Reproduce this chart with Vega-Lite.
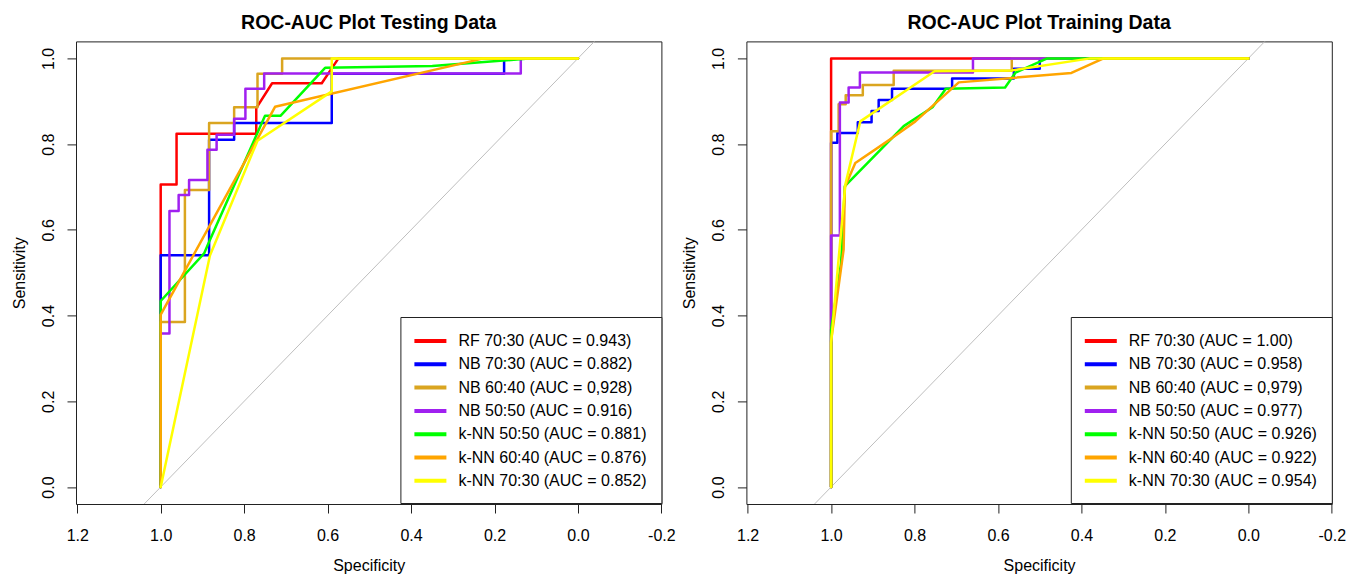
{
  "$schema": "https://vega.github.io/schema/vega-lite/v6.json",
  "padding": {"left": 10, "top": 11.4, "right": 5, "bottom": 5},
  "bounds": "flush",
  "spacing": 84.4,
  "config": {
    "font": "Liberation Sans",
    "background": "white",
    "view": {"stroke": "#222222", "strokeWidth": 1},
    "axis": {"domain": false, "grid": false, "tickColor": "#222222", "tickSize": 9, "tickWidth": 1, "labelFont": "Liberation Sans", "labelFontSize": 16, "labelColor": "#000000", "titleFont": "Liberation Sans", "titleFontSize": 16, "titleFontWeight": "normal", "titleColor": "#000000", "labelOverlap": false, "labelFlush": false, "labelBound": false},
    "title": {"font": "Liberation Sans", "fontSize": 19.5, "fontWeight": "bold", "color": "#000000", "anchor": "middle", "frame": "group", "baseline": "alphabetic", "offset": 8.1}
  },
  "datasets": {
    "diag": [{"spec": 1.3, "sens": -0.3}, {"spec": -0.3, "sens": 1.3}],
    "test": [
      {"model": "RF 70:30 (AUC = 0.943)", "i": 0, "spec": 1, "sens": 0},
      {"model": "RF 70:30 (AUC = 0.943)", "i": 1, "spec": 1, "sens": 0.706},
      {"model": "RF 70:30 (AUC = 0.943)", "i": 2, "spec": 0.962, "sens": 0.706},
      {"model": "RF 70:30 (AUC = 0.943)", "i": 3, "spec": 0.962, "sens": 0.824},
      {"model": "RF 70:30 (AUC = 0.943)", "i": 4, "spec": 0.771, "sens": 0.824},
      {"model": "RF 70:30 (AUC = 0.943)", "i": 5, "spec": 0.771, "sens": 0.884},
      {"model": "RF 70:30 (AUC = 0.943)", "i": 6, "spec": 0.733, "sens": 0.942},
      {"model": "RF 70:30 (AUC = 0.943)", "i": 7, "spec": 0.614, "sens": 0.942},
      {"model": "RF 70:30 (AUC = 0.943)", "i": 8, "spec": 0.574, "sens": 1},
      {"model": "RF 70:30 (AUC = 0.943)", "i": 9, "spec": 0, "sens": 1},

      {"model": "NB 70:30 (AUC = 0.882)", "i": 0, "spec": 1, "sens": 0},
      {"model": "NB 70:30 (AUC = 0.882)", "i": 1, "spec": 1, "sens": 0.541},
      {"model": "NB 70:30 (AUC = 0.882)", "i": 2, "spec": 0.884, "sens": 0.541},
      {"model": "NB 70:30 (AUC = 0.882)", "i": 3, "spec": 0.884, "sens": 0.81},
      {"model": "NB 70:30 (AUC = 0.882)", "i": 4, "spec": 0.824, "sens": 0.81},
      {"model": "NB 70:30 (AUC = 0.882)", "i": 5, "spec": 0.824, "sens": 0.849},
      {"model": "NB 70:30 (AUC = 0.882)", "i": 6, "spec": 0.59, "sens": 0.849},
      {"model": "NB 70:30 (AUC = 0.882)", "i": 7, "spec": 0.59, "sens": 0.964},
      {"model": "NB 70:30 (AUC = 0.882)", "i": 8, "spec": 0.177, "sens": 0.964},
      {"model": "NB 70:30 (AUC = 0.882)", "i": 9, "spec": 0.177, "sens": 1},
      {"model": "NB 70:30 (AUC = 0.882)", "i": 10, "spec": 0, "sens": 1},

      {"model": "NB 60:40 (AUC = 0,928)", "i": 0, "spec": 1, "sens": 0},
      {"model": "NB 60:40 (AUC = 0,928)", "i": 1, "spec": 1, "sens": 0.385},
      {"model": "NB 60:40 (AUC = 0,928)", "i": 2, "spec": 0.942, "sens": 0.385},
      {"model": "NB 60:40 (AUC = 0,928)", "i": 3, "spec": 0.942, "sens": 0.693},
      {"model": "NB 60:40 (AUC = 0,928)", "i": 4, "spec": 0.884, "sens": 0.693},
      {"model": "NB 60:40 (AUC = 0,928)", "i": 5, "spec": 0.884, "sens": 0.849},
      {"model": "NB 60:40 (AUC = 0,928)", "i": 6, "spec": 0.824, "sens": 0.849},
      {"model": "NB 60:40 (AUC = 0,928)", "i": 7, "spec": 0.824, "sens": 0.886},
      {"model": "NB 60:40 (AUC = 0,928)", "i": 8, "spec": 0.768, "sens": 0.886},
      {"model": "NB 60:40 (AUC = 0,928)", "i": 9, "spec": 0.768, "sens": 0.964},
      {"model": "NB 60:40 (AUC = 0,928)", "i": 10, "spec": 0.709, "sens": 0.964},
      {"model": "NB 60:40 (AUC = 0,928)", "i": 11, "spec": 0.709, "sens": 1},
      {"model": "NB 60:40 (AUC = 0,928)", "i": 12, "spec": 0, "sens": 1},

      {"model": "NB 50:50 (AUC = 0.916)", "i": 0, "spec": 1, "sens": 0},
      {"model": "NB 50:50 (AUC = 0.916)", "i": 1, "spec": 1, "sens": 0.358},
      {"model": "NB 50:50 (AUC = 0.916)", "i": 2, "spec": 0.979, "sens": 0.358},
      {"model": "NB 50:50 (AUC = 0.916)", "i": 3, "spec": 0.979, "sens": 0.644},
      {"model": "NB 50:50 (AUC = 0.916)", "i": 4, "spec": 0.957, "sens": 0.644},
      {"model": "NB 50:50 (AUC = 0.916)", "i": 5, "spec": 0.957, "sens": 0.681},
      {"model": "NB 50:50 (AUC = 0.916)", "i": 6, "spec": 0.932, "sens": 0.681},
      {"model": "NB 50:50 (AUC = 0.916)", "i": 7, "spec": 0.932, "sens": 0.716},
      {"model": "NB 50:50 (AUC = 0.916)", "i": 8, "spec": 0.888, "sens": 0.716},
      {"model": "NB 50:50 (AUC = 0.916)", "i": 9, "spec": 0.888, "sens": 0.787},
      {"model": "NB 50:50 (AUC = 0.916)", "i": 10, "spec": 0.866, "sens": 0.787},
      {"model": "NB 50:50 (AUC = 0.916)", "i": 11, "spec": 0.866, "sens": 0.822},
      {"model": "NB 50:50 (AUC = 0.916)", "i": 12, "spec": 0.824, "sens": 0.822},
      {"model": "NB 50:50 (AUC = 0.916)", "i": 13, "spec": 0.824, "sens": 0.859},
      {"model": "NB 50:50 (AUC = 0.916)", "i": 14, "spec": 0.797, "sens": 0.859},
      {"model": "NB 50:50 (AUC = 0.916)", "i": 15, "spec": 0.797, "sens": 0.929},
      {"model": "NB 50:50 (AUC = 0.916)", "i": 16, "spec": 0.752, "sens": 0.929},
      {"model": "NB 50:50 (AUC = 0.916)", "i": 17, "spec": 0.752, "sens": 0.965},
      {"model": "NB 50:50 (AUC = 0.916)", "i": 18, "spec": 0.137, "sens": 0.965},
      {"model": "NB 50:50 (AUC = 0.916)", "i": 19, "spec": 0.137, "sens": 1},
      {"model": "NB 50:50 (AUC = 0.916)", "i": 20, "spec": 0, "sens": 1},

      {"model": "k-NN 50:50 (AUC = 0.881)", "i": 0, "spec": 1, "sens": 0},
      {"model": "k-NN 50:50 (AUC = 0.881)", "i": 1, "spec": 1, "sens": 0.434},
      {"model": "k-NN 50:50 (AUC = 0.881)", "i": 2, "spec": 0.896, "sens": 0.545},
      {"model": "k-NN 50:50 (AUC = 0.881)", "i": 3, "spec": 0.885, "sens": 0.57},
      {"model": "k-NN 50:50 (AUC = 0.881)", "i": 4, "spec": 0.75, "sens": 0.866},
      {"model": "k-NN 50:50 (AUC = 0.881)", "i": 5, "spec": 0.713, "sens": 0.866},
      {"model": "k-NN 50:50 (AUC = 0.881)", "i": 6, "spec": 0.606, "sens": 0.978},
      {"model": "k-NN 50:50 (AUC = 0.881)", "i": 7, "spec": 0.349, "sens": 0.982},
      {"model": "k-NN 50:50 (AUC = 0.881)", "i": 8, "spec": 0.111, "sens": 1},
      {"model": "k-NN 50:50 (AUC = 0.881)", "i": 9, "spec": 0, "sens": 1},

      {"model": "k-NN 60:40 (AUC = 0.876)", "i": 0, "spec": 1, "sens": 0},
      {"model": "k-NN 60:40 (AUC = 0.876)", "i": 1, "spec": 1, "sens": 0.402},
      {"model": "k-NN 60:40 (AUC = 0.876)", "i": 2, "spec": 0.726, "sens": 0.887},
      {"model": "k-NN 60:40 (AUC = 0.876)", "i": 3, "spec": 0.226, "sens": 1},
      {"model": "k-NN 60:40 (AUC = 0.876)", "i": 4, "spec": 0, "sens": 1},

      {"model": "k-NN 70:30 (AUC = 0.852)", "i": 0, "spec": 1, "sens": 0},
      {"model": "k-NN 70:30 (AUC = 0.852)", "i": 1, "spec": 0.882, "sens": 0.54},
      {"model": "k-NN 70:30 (AUC = 0.852)", "i": 2, "spec": 0.768, "sens": 0.808},
      {"model": "k-NN 70:30 (AUC = 0.852)", "i": 3, "spec": 0.59, "sens": 0.923},
      {"model": "k-NN 70:30 (AUC = 0.852)", "i": 4, "spec": 0.59, "sens": 1},
      {"model": "k-NN 70:30 (AUC = 0.852)", "i": 5, "spec": 0, "sens": 1}
    ],
    "train": [
      {"model": "RF 70:30 (AUC = 1.00)", "i": 0, "spec": 1, "sens": 0},
      {"model": "RF 70:30 (AUC = 1.00)", "i": 1, "spec": 1, "sens": 1},
      {"model": "RF 70:30 (AUC = 1.00)", "i": 2, "spec": 0, "sens": 1},

      {"model": "NB 70:30 (AUC = 0.958)", "i": 0, "spec": 1, "sens": 0},
      {"model": "NB 70:30 (AUC = 0.958)", "i": 1, "spec": 1, "sens": 0.803},
      {"model": "NB 70:30 (AUC = 0.958)", "i": 2, "spec": 0.985, "sens": 0.803},
      {"model": "NB 70:30 (AUC = 0.958)", "i": 3, "spec": 0.985, "sens": 0.826},
      {"model": "NB 70:30 (AUC = 0.958)", "i": 4, "spec": 0.936, "sens": 0.826},
      {"model": "NB 70:30 (AUC = 0.958)", "i": 5, "spec": 0.936, "sens": 0.851},
      {"model": "NB 70:30 (AUC = 0.958)", "i": 6, "spec": 0.903, "sens": 0.851},
      {"model": "NB 70:30 (AUC = 0.958)", "i": 7, "spec": 0.903, "sens": 0.877},
      {"model": "NB 70:30 (AUC = 0.958)", "i": 8, "spec": 0.886, "sens": 0.877},
      {"model": "NB 70:30 (AUC = 0.958)", "i": 9, "spec": 0.886, "sens": 0.903},
      {"model": "NB 70:30 (AUC = 0.958)", "i": 10, "spec": 0.854, "sens": 0.903},
      {"model": "NB 70:30 (AUC = 0.958)", "i": 11, "spec": 0.854, "sens": 0.929},
      {"model": "NB 70:30 (AUC = 0.958)", "i": 12, "spec": 0.71, "sens": 0.929},
      {"model": "NB 70:30 (AUC = 0.958)", "i": 13, "spec": 0.71, "sens": 0.953},
      {"model": "NB 70:30 (AUC = 0.958)", "i": 14, "spec": 0.562, "sens": 0.953},
      {"model": "NB 70:30 (AUC = 0.958)", "i": 15, "spec": 0.562, "sens": 0.976},
      {"model": "NB 70:30 (AUC = 0.958)", "i": 16, "spec": 0.5, "sens": 0.976},
      {"model": "NB 70:30 (AUC = 0.958)", "i": 17, "spec": 0.5, "sens": 1},
      {"model": "NB 70:30 (AUC = 0.958)", "i": 18, "spec": 0, "sens": 1},

      {"model": "NB 60:40 (AUC = 0,979)", "i": 0, "spec": 1, "sens": 0},
      {"model": "NB 60:40 (AUC = 0,979)", "i": 1, "spec": 1, "sens": 0.83},
      {"model": "NB 60:40 (AUC = 0,979)", "i": 2, "spec": 0.982, "sens": 0.83},
      {"model": "NB 60:40 (AUC = 0,979)", "i": 3, "spec": 0.982, "sens": 0.893},
      {"model": "NB 60:40 (AUC = 0,979)", "i": 4, "spec": 0.965, "sens": 0.893},
      {"model": "NB 60:40 (AUC = 0,979)", "i": 5, "spec": 0.965, "sens": 0.914},
      {"model": "NB 60:40 (AUC = 0,979)", "i": 6, "spec": 0.924, "sens": 0.914},
      {"model": "NB 60:40 (AUC = 0,979)", "i": 7, "spec": 0.924, "sens": 0.938},
      {"model": "NB 60:40 (AUC = 0,979)", "i": 8, "spec": 0.85, "sens": 0.938},
      {"model": "NB 60:40 (AUC = 0,979)", "i": 9, "spec": 0.85, "sens": 0.971},
      {"model": "NB 60:40 (AUC = 0,979)", "i": 10, "spec": 0.567, "sens": 0.971},
      {"model": "NB 60:40 (AUC = 0,979)", "i": 11, "spec": 0.567, "sens": 1},
      {"model": "NB 60:40 (AUC = 0,979)", "i": 12, "spec": 0, "sens": 1},

      {"model": "NB 50:50 (AUC = 0.977)", "i": 0, "spec": 1, "sens": 0},
      {"model": "NB 50:50 (AUC = 0.977)", "i": 1, "spec": 1, "sens": 0.587},
      {"model": "NB 50:50 (AUC = 0.977)", "i": 2, "spec": 0.979, "sens": 0.587},
      {"model": "NB 50:50 (AUC = 0.977)", "i": 3, "spec": 0.979, "sens": 0.897},
      {"model": "NB 50:50 (AUC = 0.977)", "i": 4, "spec": 0.958, "sens": 0.897},
      {"model": "NB 50:50 (AUC = 0.977)", "i": 5, "spec": 0.958, "sens": 0.932},
      {"model": "NB 50:50 (AUC = 0.977)", "i": 6, "spec": 0.931, "sens": 0.932},
      {"model": "NB 50:50 (AUC = 0.977)", "i": 7, "spec": 0.931, "sens": 0.967},
      {"model": "NB 50:50 (AUC = 0.977)", "i": 8, "spec": 0.66, "sens": 0.967},
      {"model": "NB 50:50 (AUC = 0.977)", "i": 9, "spec": 0.66, "sens": 1},
      {"model": "NB 50:50 (AUC = 0.977)", "i": 10, "spec": 0, "sens": 1},

      {"model": "k-NN 50:50 (AUC = 0.926)", "i": 0, "spec": 1, "sens": 0},
      {"model": "k-NN 50:50 (AUC = 0.926)", "i": 1, "spec": 1, "sens": 0.367},
      {"model": "k-NN 50:50 (AUC = 0.926)", "i": 2, "spec": 0.976, "sens": 0.523},
      {"model": "k-NN 50:50 (AUC = 0.926)", "i": 3, "spec": 0.967, "sens": 0.702},
      {"model": "k-NN 50:50 (AUC = 0.926)", "i": 4, "spec": 0.826, "sens": 0.842},
      {"model": "k-NN 50:50 (AUC = 0.926)", "i": 5, "spec": 0.757, "sens": 0.886},
      {"model": "k-NN 50:50 (AUC = 0.926)", "i": 6, "spec": 0.725, "sens": 0.929},
      {"model": "k-NN 50:50 (AUC = 0.926)", "i": 7, "spec": 0.583, "sens": 0.932},
      {"model": "k-NN 50:50 (AUC = 0.926)", "i": 8, "spec": 0.558, "sens": 0.967},
      {"model": "k-NN 50:50 (AUC = 0.926)", "i": 9, "spec": 0.482, "sens": 1},
      {"model": "k-NN 50:50 (AUC = 0.926)", "i": 10, "spec": 0, "sens": 1},

      {"model": "k-NN 60:40 (AUC = 0.922)", "i": 0, "spec": 1, "sens": 0},
      {"model": "k-NN 60:40 (AUC = 0.922)", "i": 1, "spec": 1, "sens": 0.341},
      {"model": "k-NN 60:40 (AUC = 0.922)", "i": 2, "spec": 0.97, "sens": 0.554},
      {"model": "k-NN 60:40 (AUC = 0.922)", "i": 3, "spec": 0.967, "sens": 0.7},
      {"model": "k-NN 60:40 (AUC = 0.922)", "i": 4, "spec": 0.942, "sens": 0.756},
      {"model": "k-NN 60:40 (AUC = 0.922)", "i": 5, "spec": 0.854, "sens": 0.814},
      {"model": "k-NN 60:40 (AUC = 0.922)", "i": 6, "spec": 0.798, "sens": 0.853},
      {"model": "k-NN 60:40 (AUC = 0.922)", "i": 7, "spec": 0.694, "sens": 0.944},
      {"model": "k-NN 60:40 (AUC = 0.922)", "i": 8, "spec": 0.424, "sens": 0.966},
      {"model": "k-NN 60:40 (AUC = 0.922)", "i": 9, "spec": 0.347, "sens": 1},
      {"model": "k-NN 60:40 (AUC = 0.922)", "i": 10, "spec": 0, "sens": 1},

      {"model": "k-NN 70:30 (AUC = 0.954)", "i": 0, "spec": 1, "sens": 0},
      {"model": "k-NN 70:30 (AUC = 0.954)", "i": 1, "spec": 1, "sens": 0.337},
      {"model": "k-NN 70:30 (AUC = 0.954)", "i": 2, "spec": 0.966, "sens": 0.705},
      {"model": "k-NN 70:30 (AUC = 0.954)", "i": 3, "spec": 0.93, "sens": 0.853},
      {"model": "k-NN 70:30 (AUC = 0.954)", "i": 4, "spec": 0.752, "sens": 0.97},
      {"model": "k-NN 70:30 (AUC = 0.954)", "i": 5, "spec": 0.566, "sens": 0.972},
      {"model": "k-NN 70:30 (AUC = 0.954)", "i": 6, "spec": 0.379, "sens": 1},
      {"model": "k-NN 70:30 (AUC = 0.954)", "i": 7, "spec": 0, "sens": 1}
    ]
  },
  "resolve": {"scale": {"color": "independent"}, "legend": {"color": "independent"}},
  "hconcat": [
    {
      "width": 585.4,
      "height": 462.6,
      "title": {"text": "ROC-AUC Plot Testing Data"},
      "encoding": {
        "x": {"field": "spec", "type": "quantitative", "title": "Specificity",
          "scale": {"domain": [-0.2, 1.203], "reverse": true, "nice": false, "zero": false},
          "axis": {"values": [1.2, 1, 0.8, 0.6, 0.4, 0.2, 0, -0.2], "labelExpr": "replace(format(datum.value, '.1f'), '\u2212', '-')", "labelBaseline": "alphabetic", "labelPadding": 27.9, "titleX": 292.7, "titleY": 66.7, "titleBaseline": "alphabetic", "titleAlign": "center"}},
        "y": {"field": "sens", "type": "quantitative", "title": "Sensitivity",
          "scale": {"domain": [-0.0396, 1.0396], "nice": false, "zero": false},
          "axis": {"values": [0, 0.2, 0.4, 0.6, 0.8, 1], "format": ".1f", "labelAngle": 270, "labelAlign": "center", "labelBaseline": "alphabetic", "labelPadding": 13.9, "titleAngle": 270, "titleAlign": "center", "titleBaseline": "alphabetic", "titleX": -51.9, "titleY": 231.3}}
      },
      "layer": [
        {"data": {"name": "diag"}, "mark": {"type": "line", "color": "#BEBEBE", "strokeWidth": 1, "clip": true}},
        {"data": {"name": "test"}, "mark": {"type": "line", "strokeWidth": 2.5, "clip": true, "strokeCap": "round", "strokeJoin": "round"},
          "encoding": {
            "order": {"field": "i", "type": "quantitative"},
            "color": {"field": "model", "type": "nominal",
              "scale": {"domain": ["RF 70:30 (AUC = 0.943)", "NB 70:30 (AUC = 0.882)", "NB 60:40 (AUC = 0,928)", "NB 50:50 (AUC = 0.916)", "k-NN 50:50 (AUC = 0.881)", "k-NN 60:40 (AUC = 0.876)", "k-NN 70:30 (AUC = 0.852)"],
                "range": ["#FF0000", "#0000FF", "#DAA520", "#A020F0", "#00FF00", "#FFA500", "#FFFF00"]},
              "legend": {"title": null, "orient": "none", "direction": "vertical", "legendX": 324.4, "legendY": 275.6, "padding": 14, "strokeColor": "#222222", "fillColor": "white", "symbolType": "M-1.25,0H2.75", "symbolSize": 256, "symbolStrokeWidth": 4, "labelFontSize": 16, "labelFont": "Liberation Sans", "labelColor": "#000000", "labelOffset": 24, "rowPadding": 5.3, "labelLimit": 0, "symbolLimit": 0}}
          }}
      ]
    },
    {
      "width": 585.4,
      "height": 462.6,
      "title": {"text": "ROC-AUC Plot Training Data"},
      "encoding": {
        "x": {"field": "spec", "type": "quantitative", "title": "Specificity",
          "scale": {"domain": [-0.2, 1.203], "reverse": true, "nice": false, "zero": false},
          "axis": {"values": [1.2, 1, 0.8, 0.6, 0.4, 0.2, 0, -0.2], "labelExpr": "replace(format(datum.value, '.1f'), '\u2212', '-')", "labelBaseline": "alphabetic", "labelPadding": 27.9, "titleX": 292.7, "titleY": 66.7, "titleBaseline": "alphabetic", "titleAlign": "center"}},
        "y": {"field": "sens", "type": "quantitative", "title": "Sensitivity",
          "scale": {"domain": [-0.0396, 1.0396], "nice": false, "zero": false},
          "axis": {"values": [0, 0.2, 0.4, 0.6, 0.8, 1], "format": ".1f", "labelAngle": 270, "labelAlign": "center", "labelBaseline": "alphabetic", "labelPadding": 13.9, "titleAngle": 270, "titleAlign": "center", "titleBaseline": "alphabetic", "titleX": -51.9, "titleY": 231.3}}
      },
      "layer": [
        {"data": {"name": "diag"}, "mark": {"type": "line", "color": "#BEBEBE", "strokeWidth": 1, "clip": true}},
        {"data": {"name": "train"}, "mark": {"type": "line", "strokeWidth": 2.5, "clip": true, "strokeCap": "round", "strokeJoin": "round"},
          "encoding": {
            "order": {"field": "i", "type": "quantitative"},
            "color": {"field": "model", "type": "nominal",
              "scale": {"domain": ["RF 70:30 (AUC = 1.00)", "NB 70:30 (AUC = 0.958)", "NB 60:40 (AUC = 0,979)", "NB 50:50 (AUC = 0.977)", "k-NN 50:50 (AUC = 0.926)", "k-NN 60:40 (AUC = 0.922)", "k-NN 70:30 (AUC = 0.954)"],
                "range": ["#FF0000", "#0000FF", "#DAA520", "#A020F0", "#00FF00", "#FFA500", "#FFFF00"]},
              "legend": {"title": null, "orient": "none", "direction": "vertical", "legendX": 324.4, "legendY": 275.6, "padding": 14, "strokeColor": "#222222", "fillColor": "white", "symbolType": "M-1.25,0H2.75", "symbolSize": 256, "symbolStrokeWidth": 4, "labelFontSize": 16, "labelFont": "Liberation Sans", "labelColor": "#000000", "labelOffset": 24, "rowPadding": 5.3, "labelLimit": 0, "symbolLimit": 0}}
          }}
      ]
    }
  ]
}
